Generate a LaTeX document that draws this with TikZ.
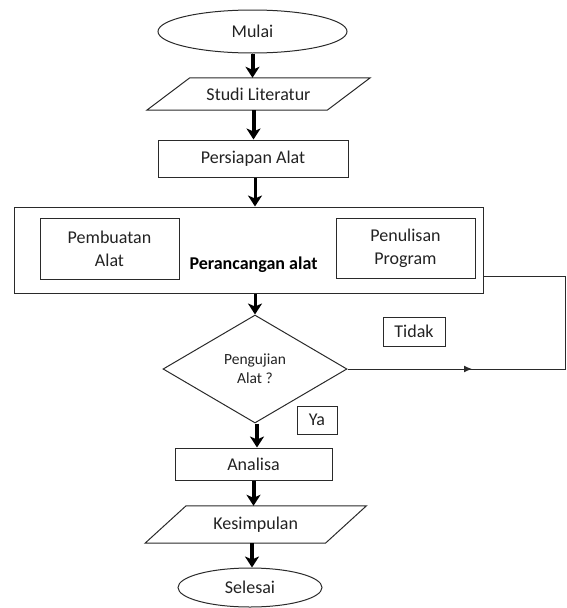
\documentclass[tikz,border=0pt]{standalone}
\usepackage{fontspec}
\setmainfont{Carlito}
\usetikzlibrary{shapes.geometric,arrows.meta,calc}
\definecolor{lncol}{HTML}{2A2A2A}
\definecolor{txcol}{HTML}{222222}
\tikzset{
  base/.style={draw=lncol, line width=1pt, inner sep=0pt, align=center, text=txcol,
    font=\fontsize{18}{23}\selectfont},
  boxx/.style={base, rectangle},
  oval/.style={base, ellipse},
  para/.style={inner sep=0pt, align=center, text=txcol, font=\fontsize{18}{23}\selectfont},
  dec/.style={base, diamond, font=\fontsize{15.5}{19}\selectfont},
  arr/.style={line width=4pt, draw=black, -{Stealth[length=11pt,width=14pt,inset=3pt]}},
  thinline/.style={line width=1pt, draw=lncol},
}
\begin{document}
\begin{tikzpicture}[x=1pt,y=-1pt]
\useasboundingbox (0,0) rectangle (566,608);
% nodes
\node[oval, minimum width=189pt, minimum height=43pt] (mulai) at (252.5,31.5) {Mulai};
\node[para, minimum width=180pt, minimum height=32pt] (studi) at (258.5,94) {Studi Literatur};
\draw[thinline] ($(studi.north west)+(21.5,0)$) -- ($(studi.north east)+(21.5,0)$)
  -- ($(studi.south east)+(-21.5,0)$) -- ($(studi.south west)+(-21.5,0)$) -- cycle;
\node[boxx, minimum width=190pt, minimum height=37pt] (persiapan) at (253,158.5) {Persiapan Alat};
\node[boxx, minimum width=469pt, minimum height=86pt] (rancang) at (248.5,250) {};
\node[boxx, minimum width=139pt, minimum height=61pt] (pembuatan) at (109.5,248.5) {Pembuatan\\Alat};
\node[boxx, minimum width=139pt, minimum height=60pt] (penulisan) at (405.5,248) {Penulisan\\Program};
\node[inner sep=0pt, text=black, font=\fontsize{18}{23}\selectfont\bfseries] (rlabel) at (253.5,265) {Perancangan alat};
\node[dec, minimum width=184pt, minimum height=108pt] (uji) at (255,369) {Pengujian\\Alat ?};
\node[boxx, minimum width=62pt, minimum height=29pt] (tidak) at (414,331.5) {Tidak};
\node[boxx, minimum width=40pt, minimum height=28pt] (ya) at (317,420) {Ya};
\node[boxx, minimum width=157pt, minimum height=32pt] (analisa) at (253.5,464) {Analisa};
\node[para, minimum width=180pt, minimum height=37pt] (kesimpulan) at (255.75,524.5) {Kesimpulan};
\draw[thinline] ($(kesimpulan.north west)+(20.5,0)$) -- ($(kesimpulan.north east)+(20.5,0)$)
  -- ($(kesimpulan.south east)+(-20.5,0)$) -- ($(kesimpulan.south west)+(-20.5,0)$) -- cycle;
\node[oval, minimum width=144pt, minimum height=39pt] (selesai) at (250,587.5) {Selesai};
% main arrows
\draw[arr] (mulai.south) -- (mulai.south |- studi.north);
\draw[arr] ([xshift=-5pt]studi.south) -- ([xshift=-5pt]studi.south |- persiapan.north);
\draw[arr, line width=3pt] ([xshift=2pt]persiapan.south) -- ([xshift=2pt]persiapan.south |- rancang.north);
\draw[arr, line width=3pt] ([xshift=6.5pt]rancang.south) -- ([xshift=6.5pt]rancang.south |- uji.north);
\draw[arr] ([xshift=2pt]uji.south) -- ([xshift=2pt]uji.south |- analisa.north);
\draw[arr] (analisa.south) -- (analisa.south |- kesimpulan.north);
\draw[arr] ([xshift=-3.75pt]kesimpulan.south) -- ([xshift=-3.75pt]kesimpulan.south |- selesai.north);
% loop back connector (Tidak)
\coordinate (c1) at (565,276);
\coordinate (c2) at (565,369);
\coordinate (cm) at (472,369);
\draw[thinline] (uji.east) -- (c2) -- (c1) -- (rancang.east |- c1);
\draw[thinline, -{Latex[length=8pt,width=7pt]}] (uji.east) -- (cm);
\end{tikzpicture}
\end{document}
